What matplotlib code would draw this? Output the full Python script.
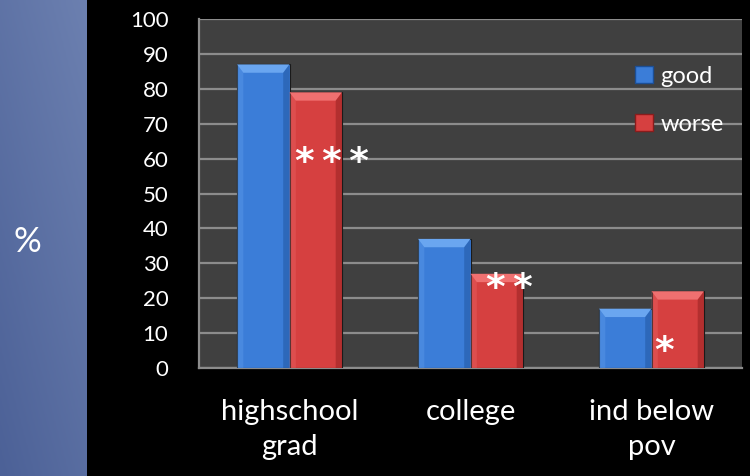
import matplotlib.pyplot as plt
import matplotlib.patches as mpatches
import numpy as np

plt.rcParams['font.family'] = ['Lato', 'DejaVu Sans']

categories = ['highschool\ngrad', 'college', 'ind below\npov']
good = [87, 37, 17]
worse = [79, 27, 22]
stars = ['***', '**', '*']

blue = '#3b7dd8'
red = '#d64040'


def bevel_bar(ax, x, h, w, color, light, dark):
    # flat body plus lighter top/left facets and a darker right facet
    d = w * 0.12
    dy = 2.4
    ax.add_patch(mpatches.Rectangle((x, 0), w, h, facecolor=color,
                                    edgecolor='#1a1a1a', lw=0.8, zorder=3))
    top = [(x, h), (x + w, h), (x + w - d, h - dy), (x + d, h - dy)]
    left = [(x, 0), (x, h), (x + d, h - dy), (x + d, 0)]
    right = [(x + w, 0), (x + w, h), (x + w - d, h - dy), (x + w - d, 0)]
    ax.add_patch(mpatches.Polygon(top, facecolor=light, lw=0, zorder=4))
    ax.add_patch(mpatches.Polygon(left, facecolor=light, alpha=0.3, lw=0, zorder=4))
    ax.add_patch(mpatches.Polygon(right, facecolor=dark, alpha=0.45, lw=0, zorder=4))


fig = plt.figure(figsize=(7.5, 4.76), dpi=100)
fig.patch.set_facecolor('black')

# side panel with a soft gradient
side = fig.add_axes([0, 0, 87 / 750, 1])
gx, gy = np.meshgrid(np.linspace(0, 1, 50), np.linspace(0, 1, 200))
grad = 0.6 * gy + 0.4 * gx
side.imshow(grad, cmap=plt.matplotlib.colors.LinearSegmentedColormap.from_list(
    'side', ['#4c6197', '#6c80b0']), aspect='auto', origin='lower', extent=[0, 1, 0, 1])
side.set_axis_off()
fig.text(27 / 750, 1 - 242 / 476, '%', color='white', fontsize=25,
         ha='center', va='center')

ax = fig.add_axes([199 / 750, 1 - 368 / 476, 543 / 750, 349 / 476])
ax.set_facecolor('#404040')
ax.set_xlim(-0.5, 2.5)
ax.set_ylim(0, 100)
ax.set_yticks(np.arange(0, 101, 10))
ax.yaxis.grid(True, color='#8c8c8c', lw=1.6)
ax.set_axisbelow(True)

w = 0.29
x = np.arange(len(categories))
for i in range(len(categories)):
    bevel_bar(ax, x[i] - w, good[i], w, blue, '#6aa6f0', '#1c4f96')
    bevel_bar(ax, x[i], worse[i], w, red, '#f07070', '#8a1c1c')

# significance markers inside the red bars
star_y = [58.7, 22.5, 4.5]
star_dx = [0.028, 0.083, 0.017]
for i in range(len(categories)):
    ax.text(x[i] + star_dx[i], star_y[i], '\u2009'.join(stars[i]), color='white',
            fontsize=27, fontweight='bold', ha='left', va='center',
            family='DejaVu Sans', zorder=6)

ax.set_xticks(x)
ax.set_xticklabels(categories, color='white', fontsize=21, linespacing=1.45)
ax.tick_params(axis='x', length=0, pad=22)
ax.tick_params(axis='y', length=0, pad=22, labelcolor='white', labelsize=16)
for s in ['top', 'right']:
    ax.spines[s].set_visible(False)
for s in ['left', 'bottom']:
    ax.spines[s].set_color('#8c8c8c')
    ax.spines[s].set_linewidth(1.6)

handles = [mpatches.Patch(facecolor=blue, edgecolor='#1c4f96', label='good'),
           mpatches.Patch(facecolor=red, edgecolor='#8a1c1c', label='worse')]
leg = ax.legend(handles=handles, loc='upper left', bbox_to_anchor=(0.782, 0.9),
                frameon=False, fontsize=17, labelcolor='white',
                handlelength=0.75, handleheight=0.75, handletextpad=0.3,
                labelspacing=1.15, borderpad=0)

fig.savefig('out.png', dpi=100, facecolor='black')
